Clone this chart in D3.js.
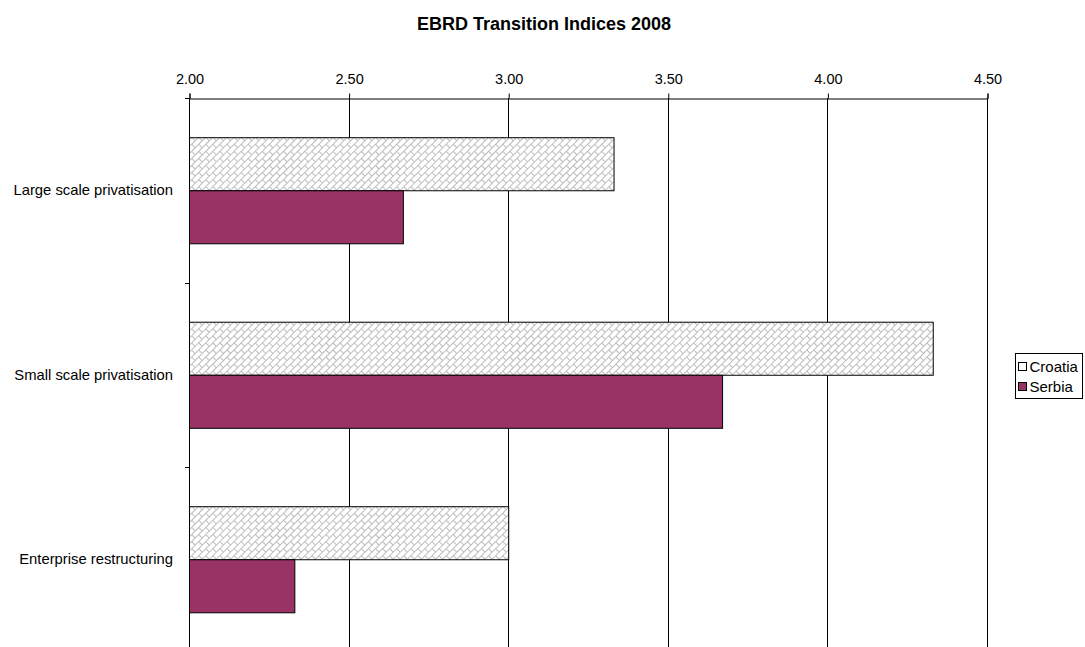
<!DOCTYPE html>
<html>
<head>
<meta charset="utf-8">
<script src="https://cdn.jsdelivr.net/npm/d3@7"></script>
<style>
  html, body { margin: 0; padding: 0; background: #fff; }
  svg { display: block; font-family: "Liberation Sans", Arial, sans-serif; }
</style>
</head>
<body>
<svg id="chart" width="1085" height="647"></svg>
<script>
// Indicator categories, series and axis ticks
const categories = ["Large scale privatisation", "Small scale privatisation", "Enterprise restructuring"];
const seriesNames = ["Croatia", "Serbia"];
const croatia = [3.33, 4.33, 3.00];
const serbia = [2.67, 3.67, 2.33];
const xTicks = [2.00, 2.50, 3.00, 3.50, 4.00, 4.50];
const title = "EBRD Transition Indices 2008";

const rows = categories.map((c, i) => ({ category: c, values: [croatia[i], serbia[i]] }));

const svg = d3.select("#chart");
const plot = { left: 189, right: 987, top: 98, bottom: 651.5 };

// Hatched "shingle" fill for the first series
const defs = svg.append("defs");
const pat = defs.append("pattern")
  .attr("id", "shingle")
  .attr("patternUnits", "userSpaceOnUse")
  .attr("width", 10).attr("height", 10)
  .attr("patternTransform", "rotate(-45)");
pat.append("rect").attr("width", 10).attr("height", 10).attr("fill", "#fff");
pat.append("path")
  .attr("d", "M0,0.5H10M0,5.5H10M0.5,0V5.5M5.5,5.5V10")
  .attr("stroke", "#bdbdbd").attr("stroke-width", 1).attr("fill", "none");

const fills = ["url(#shingle)", "#993366"];
const swatchFills = ["#fff", "#993366"];

const x = d3.scaleLinear().domain([2, 4.5]).range([plot.left, plot.right]);
const y = d3.scaleBand().domain(categories).range([plot.top, plot.bottom])
  .paddingInner(0.425).paddingOuter(0.2125);
const ySub = d3.scaleBand().domain(seriesNames).range([0, y.bandwidth()]).padding(0);

// Title
svg.append("text")
  .attr("x", 544).attr("y", 30)
  .attr("text-anchor", "middle")
  .attr("font-size", 18).attr("font-weight", "bold")
  .text(title);

// Vertical gridlines
svg.append("g").selectAll("line")
  .data(xTicks.slice(1))
  .join("line")
  .attr("x1", d => Math.round(x(d)) + 0.5).attr("x2", d => Math.round(x(d)) + 0.5)
  .attr("y1", plot.top).attr("y2", plot.bottom)
  .attr("stroke", "#000").attr("stroke-width", 1);

// Top value axis
const xAxis = d3.axisTop(x).tickValues(xTicks).tickFormat(d3.format(".2f")).tickSize(5).tickPadding(10);
const gx = svg.append("g").attr("transform", `translate(0.5,${plot.top + 0.5})`).call(xAxis);
gx.select(".domain").attr("stroke", "#000");
gx.selectAll(".tick line").attr("stroke", "#000");
gx.selectAll(".tick text").attr("font-size", 14.5).attr("fill", "#000")
  .attr("font-family", "'Liberation Sans', Arial, sans-serif");

// Bars
const groups = svg.append("g").selectAll("g")
  .data(rows)
  .join("g")
  .attr("transform", d => `translate(0,${y(d.category)})`);
groups.selectAll("rect")
  .data(d => d.values.map((v, i) => ({ name: seriesNames[i], value: v, idx: i })))
  .join("rect")
  .attr("x", x(2) + 0.5)
  .attr("y", d => ySub(d.name) + 0.5)
  .attr("width", d => x(d.value) - x(2))
  .attr("height", ySub.bandwidth())
  .attr("fill", d => fills[d.idx])
  .attr("stroke", "#000").attr("stroke-width", 1);

// Category axis with ticks between categories
const ax = svg.append("g");
ax.append("line")
  .attr("x1", plot.left + 0.5).attr("x2", plot.left + 0.5)
  .attr("y1", plot.top).attr("y2", plot.bottom)
  .attr("stroke", "#000");
const boundaries = d3.range(categories.length + 1).map(i => plot.top + i * y.step());
ax.selectAll("line.tk")
  .data(boundaries)
  .join("line").attr("class", "tk")
  .attr("x1", plot.left - 4).attr("x2", plot.left)
  .attr("y1", d => Math.round(d) + 0.5).attr("y2", d => Math.round(d) + 0.5)
  .attr("stroke", "#000");
ax.selectAll("text")
  .data(categories)
  .join("text")
  .attr("x", plot.left - 16)
  .attr("y", d => y(d) + y.bandwidth() / 2)
  .attr("dy", "0.35em")
  .attr("text-anchor", "end")
  .attr("font-size", 14.8)
  .text(d => d);

// Legend
const lg = svg.append("g").attr("transform", "translate(1015.5,353.5)");
lg.append("rect").attr("width", 67).attr("height", 45)
  .attr("fill", "#fff").attr("stroke", "#000");
const items = lg.selectAll("g.item")
  .data(seriesNames)
  .join("g").attr("class", "item")
  .attr("transform", (d, i) => `translate(3,${9 + i * 20})`);
items.append("rect")
  .attr("width", 8).attr("height", 8)
  .attr("fill", (d, i) => swatchFills[i])
  .attr("stroke", "#000");
items.append("text")
  .attr("x", 11).attr("y", 4)
  .attr("dy", "0.35em")
  .attr("font-size", 15)
  .text(d => d);
</script>
</body>
</html>
